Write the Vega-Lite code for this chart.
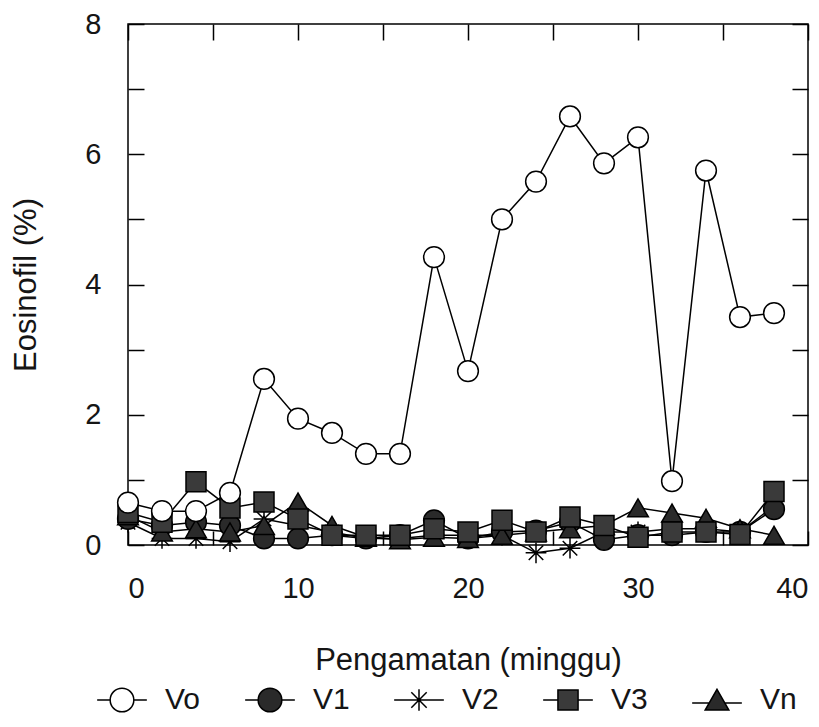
{
  "$schema": "https://vega.github.io/schema/vega-lite/v6.json",
  "width": 680,
  "height": 521,
  "autosize": {"type": "none"},
  "padding": {"left": 128, "top": 24, "right": 11, "bottom": 182},
  "background": "white",
  "config": {
    "view": {"stroke": "black", "strokeWidth": 1.5},
    "font": "Liberation Sans",
    "axis": {
      "domain": false,
      "grid": false,
      "tickColor": "black",
      "tickWidth": 1.5,
      "labelFont": "Liberation Sans",
      "labelFontSize": 29,
      "labelColor": "#151515",
      "titleFont": "Liberation Sans",
      "titleFontSize": 31,
      "titleFontWeight": "normal",
      "titleColor": "#151515"
    },
    "legend": {
      "labelFont": "Liberation Sans",
      "labelFontSize": 30,
      "labelColor": "#151515"
    }
  },
  "data": {
    "values": [
      {"week": 0, "series": "Vo", "value": 0.65},
      {"week": 2, "series": "Vo", "value": 0.52},
      {"week": 4, "series": "Vo", "value": 0.52},
      {"week": 6, "series": "Vo", "value": 0.8},
      {"week": 8, "series": "Vo", "value": 2.55},
      {"week": 10, "series": "Vo", "value": 1.94},
      {"week": 12, "series": "Vo", "value": 1.72},
      {"week": 14, "series": "Vo", "value": 1.4},
      {"week": 16, "series": "Vo", "value": 1.4},
      {"week": 18, "series": "Vo", "value": 4.42},
      {"week": 20, "series": "Vo", "value": 2.67},
      {"week": 22, "series": "Vo", "value": 5.0},
      {"week": 24, "series": "Vo", "value": 5.58},
      {"week": 26, "series": "Vo", "value": 6.58},
      {"week": 28, "series": "Vo", "value": 5.86},
      {"week": 30, "series": "Vo", "value": 6.26},
      {"week": 32, "series": "Vo", "value": 0.98},
      {"week": 34, "series": "Vo", "value": 5.75},
      {"week": 36, "series": "Vo", "value": 3.5},
      {"week": 38, "series": "Vo", "value": 3.56},
      {"week": 0, "series": "V1", "value": 0.4},
      {"week": 2, "series": "V1", "value": 0.3},
      {"week": 4, "series": "V1", "value": 0.35},
      {"week": 6, "series": "V1", "value": 0.3},
      {"week": 8, "series": "V1", "value": 0.1},
      {"week": 10, "series": "V1", "value": 0.1},
      {"week": 12, "series": "V1", "value": 0.15},
      {"week": 14, "series": "V1", "value": 0.1},
      {"week": 16, "series": "V1", "value": 0.15},
      {"week": 18, "series": "V1", "value": 0.38},
      {"week": 20, "series": "V1", "value": 0.1},
      {"week": 22, "series": "V1", "value": 0.2},
      {"week": 24, "series": "V1", "value": 0.22},
      {"week": 26, "series": "V1", "value": 0.35},
      {"week": 28, "series": "V1", "value": 0.08},
      {"week": 30, "series": "V1", "value": 0.15},
      {"week": 32, "series": "V1", "value": 0.15},
      {"week": 34, "series": "V1", "value": 0.2},
      {"week": 36, "series": "V1", "value": 0.2},
      {"week": 38, "series": "V1", "value": 0.55},
      {"week": 0, "series": "V2", "value": 0.35},
      {"week": 2, "series": "V2", "value": 0.1},
      {"week": 4, "series": "V2", "value": 0.1},
      {"week": 6, "series": "V2", "value": 0.05},
      {"week": 8, "series": "V2", "value": 0.4},
      {"week": 10, "series": "V2", "value": 0.3},
      {"week": 12, "series": "V2", "value": 0.2},
      {"week": 14, "series": "V2", "value": 0.1},
      {"week": 16, "series": "V2", "value": 0.1},
      {"week": 18, "series": "V2", "value": 0.15},
      {"week": 20, "series": "V2", "value": 0.15},
      {"week": 22, "series": "V2", "value": 0.15},
      {"week": 24, "series": "V2", "value": -0.12},
      {"week": 26, "series": "V2", "value": -0.05},
      {"week": 28, "series": "V2", "value": 0.2},
      {"week": 30, "series": "V2", "value": 0.2},
      {"week": 32, "series": "V2", "value": 0.25},
      {"week": 34, "series": "V2", "value": 0.25},
      {"week": 36, "series": "V2", "value": 0.2},
      {"week": 38, "series": "V2", "value": 0.6},
      {"week": 0, "series": "V3", "value": 0.5},
      {"week": 2, "series": "V3", "value": 0.35},
      {"week": 4, "series": "V3", "value": 0.97},
      {"week": 6, "series": "V3", "value": 0.57},
      {"week": 8, "series": "V3", "value": 0.66},
      {"week": 10, "series": "V3", "value": 0.4},
      {"week": 12, "series": "V3", "value": 0.15},
      {"week": 14, "series": "V3", "value": 0.15},
      {"week": 16, "series": "V3", "value": 0.15},
      {"week": 18, "series": "V3", "value": 0.25},
      {"week": 20, "series": "V3", "value": 0.2},
      {"week": 22, "series": "V3", "value": 0.38},
      {"week": 24, "series": "V3", "value": 0.2},
      {"week": 26, "series": "V3", "value": 0.43},
      {"week": 28, "series": "V3", "value": 0.3},
      {"week": 30, "series": "V3", "value": 0.12},
      {"week": 32, "series": "V3", "value": 0.2},
      {"week": 34, "series": "V3", "value": 0.2},
      {"week": 36, "series": "V3", "value": 0.16},
      {"week": 38, "series": "V3", "value": 0.82},
      {"week": 0, "series": "Vn", "value": 0.45},
      {"week": 2, "series": "Vn", "value": 0.2},
      {"week": 4, "series": "Vn", "value": 0.25},
      {"week": 6, "series": "Vn", "value": 0.2},
      {"week": 8, "series": "Vn", "value": 0.3},
      {"week": 10, "series": "Vn", "value": 0.66},
      {"week": 12, "series": "Vn", "value": 0.3},
      {"week": 14, "series": "Vn", "value": 0.12},
      {"week": 16, "series": "Vn", "value": 0.08},
      {"week": 18, "series": "Vn", "value": 0.12},
      {"week": 20, "series": "Vn", "value": 0.1},
      {"week": 22, "series": "Vn", "value": 0.15},
      {"week": 24, "series": "Vn", "value": 0.2},
      {"week": 26, "series": "Vn", "value": 0.25},
      {"week": 28, "series": "Vn", "value": 0.3},
      {"week": 30, "series": "Vn", "value": 0.57},
      {"week": 32, "series": "Vn", "value": 0.49},
      {"week": 34, "series": "Vn", "value": 0.41},
      {"week": 36, "series": "Vn", "value": 0.25},
      {"week": 38, "series": "Vn", "value": 0.15}
    ]
  },
  "layer": [
    {
      "mark": {"type": "line", "color": "black", "strokeWidth": 1.5, "clip": false},
      "encoding": {
        "x": {
          "field": "week", "type": "quantitative",
          "scale": {"domain": [0, 40], "nice": false},
          "axis": {
            "orient": "bottom",
            "values": [0, 5, 10, 15, 20, 25, 30, 35, 40],
            "labelExpr": "datum.value % 10 === 0 ? datum.label : ''",
            "tickSize": -14,
            "labelPadding": 43,
            "title": "Pengamatan (minggu)",
            "titlePadding": 42
          }
        },
        "y": {
          "field": "value", "type": "quantitative",
          "scale": {"domain": [0, 8], "nice": false},
          "axis": {
            "orient": "left",
            "values": [0, 1, 2, 3, 4, 5, 6, 7, 8],
            "labelExpr": "datum.value % 2 === 0 ? datum.label : ''",
            "tickSize": -16,
            "labelPadding": 43,
            "title": "Eosinofil (%)",
            "titlePadding": 42
          }
        },
        "detail": {"field": "series"}
      }
    },
    {
      "transform": [{"filter": "datum.series === 'V2'"}],
      "mark": {"type": "point", "shape": "M-1,0L1,0M0,-1L0,1M-0.7,-0.7L0.7,0.7M-0.7,0.7L0.7,-0.7", "filled": false, "stroke": "black", "strokeWidth": 1.5, "opacity": 1, "size": 430, "clip": false},
      "encoding": {
        "x": {"field": "week", "type": "quantitative", "axis": null},
        "y": {"field": "value", "type": "quantitative", "axis": null}
      }
    },
    {
      "transform": [{"filter": "datum.series === 'V1'"}],
      "mark": {"type": "point", "shape": "circle", "filled": true, "fill": "#2a2a2a", "stroke": "black", "strokeWidth": 1.5, "opacity": 1, "size": 430, "clip": false},
      "encoding": {
        "x": {"field": "week", "type": "quantitative", "axis": null},
        "y": {"field": "value", "type": "quantitative", "axis": null}
      }
    },
    {
      "transform": [{"filter": "datum.series === 'Vn'"}],
      "mark": {"type": "point", "shape": "triangle-up", "filled": true, "fill": "#2a2a2a", "stroke": "black", "strokeWidth": 1.5, "opacity": 1, "size": 430, "clip": false},
      "encoding": {
        "x": {"field": "week", "type": "quantitative", "axis": null},
        "y": {"field": "value", "type": "quantitative", "axis": null}
      }
    },
    {
      "transform": [{"filter": "datum.series === 'V3'"}],
      "mark": {"type": "point", "shape": "square", "filled": true, "fill": "#3a3a3a", "stroke": "black", "strokeWidth": 1.5, "opacity": 1, "size": 400, "clip": false},
      "encoding": {
        "x": {"field": "week", "type": "quantitative", "axis": null},
        "y": {"field": "value", "type": "quantitative", "axis": null}
      }
    },
    {
      "transform": [{"filter": "datum.series === 'Vo'"}],
      "mark": {"type": "point", "shape": "circle", "filled": true, "fill": "white", "stroke": "black", "strokeWidth": 1.5, "opacity": 1, "size": 430, "clip": false},
      "encoding": {
        "x": {"field": "week", "type": "quantitative", "axis": null},
        "y": {"field": "value", "type": "quantitative", "axis": null}
      }
    },
    {
      "mark": {"type": "point", "filled": true, "opacity": 0},
      "encoding": {
        "x": {
          "field": "week", "type": "quantitative",
          "axis": {"orient": "top", "values": [0, 5, 10, 15, 20, 25, 30, 35, 40], "labels": false, "title": null, "tickSize": -16}
        },
        "y": {
          "field": "value", "type": "quantitative",
          "axis": {"orient": "right", "values": [0, 1, 2, 3, 4, 5, 6, 7, 8], "labels": false, "title": null, "tickSize": -16}
        },
        "shape": {
          "field": "series", "type": "nominal",
          "scale": {
            "domain": ["Vo", "V1", "V2", "V3", "Vn"],
            "range": [
              "M-2.1,0L-1,0M1,0L2.1,0M-1,0A1,1,0,1,0,1,0A1,1,0,1,0,-1,0Z",
              "M-2.1,0L-1,0M1,0L2.1,0M-1,0A1,1,0,1,0,1,0A1,1,0,1,0,-1,0Z",
              "M-2.1,0L2.1,0M0,-0.9L0,0.9M-0.65,-0.65L0.65,0.65M-0.65,0.65L0.65,-0.65",
              "M-2.1,0L-0.85,0M0.85,0L2.1,0M-0.85,-0.85L0.85,-0.85L0.85,0.85L-0.85,0.85Z",
              "M-2.1,0.25L-0.6,0.25M0.6,0.25L2.1,0.25M0,-0.9L1,0.85L-1,0.85Z"
            ]
          },
          "legend": {
            "orient": "none",
            "legendX": -21,
            "legendY": 661,
            "direction": "horizontal",
            "title": null,
            "symbolSize": 560,
            "symbolStrokeWidth": 1.5,
            "symbolOpacity": 1,
            "labelOffset": 28,
            "columnPadding": 41
          }
        },
        "fill": {
          "field": "series", "type": "nominal",
          "scale": {
            "domain": ["Vo", "V1", "V2", "V3", "Vn"],
            "range": ["white", "#2a2a2a", "#2a2a2a", "#3a3a3a", "#2a2a2a"]
          },
          "legend": {
            "orient": "none",
            "legendX": -21,
            "legendY": 661,
            "direction": "horizontal",
            "title": null,
            "symbolSize": 560,
            "symbolStrokeWidth": 1.5,
            "symbolOpacity": 1,
            "labelOffset": 28,
            "columnPadding": 41
          }
        },
        "stroke": {
          "field": "series", "type": "nominal",
          "scale": {
            "domain": ["Vo", "V1", "V2", "V3", "Vn"],
            "range": ["black", "black", "black", "black", "black"]
          },
          "legend": {
            "orient": "none",
            "legendX": -21,
            "legendY": 661,
            "direction": "horizontal",
            "title": null,
            "symbolSize": 560,
            "symbolStrokeWidth": 1.5,
            "symbolOpacity": 1,
            "labelOffset": 28,
            "columnPadding": 41
          }
        }
      }
    }
  ],
  "resolve": {
    "axis": {"x": "independent", "y": "independent"}
  }
}
